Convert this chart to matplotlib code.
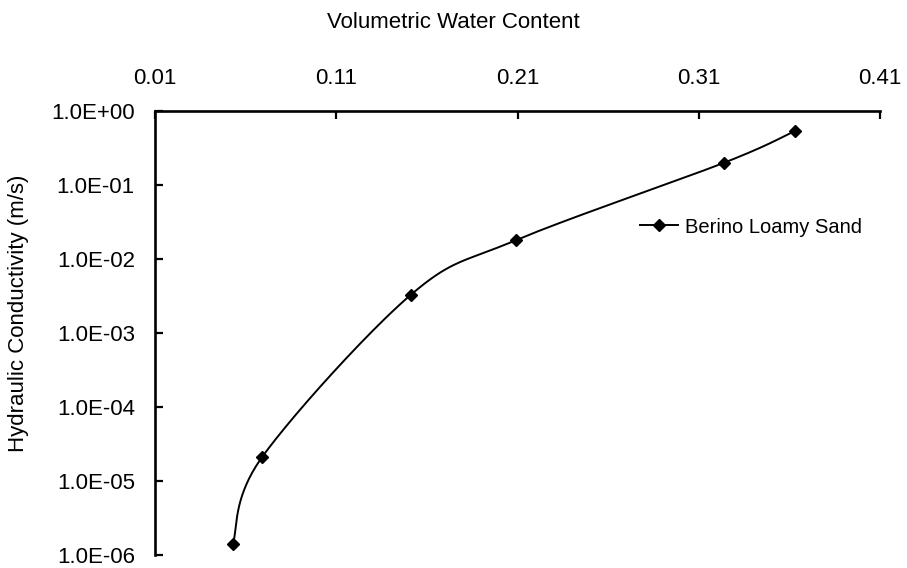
import numpy as np
import matplotlib
matplotlib.use("Agg")
import matplotlib.pyplot as plt
from matplotlib.ticker import FixedLocator, FixedFormatter, NullLocator

plt.rcParams['font.family'] = ['Liberation Sans', 'DejaVu Sans']

# Data
water_content = [0.053, 0.069, 0.151, 0.209, 0.324, 0.363]
conductivity = [1.43e-6, 2.09e-5, 3.26e-3, 1.79e-2, 0.20, 0.536]
series_name = "Berino Loamy Sand"
x_ticks = [0.01, 0.11, 0.21, 0.31, 0.41]
x_tick_labels = ["0.01", "0.11", "0.21", "0.31", "0.41"]
y_ticks = [1e-6, 1e-5, 1e-4, 1e-3, 1e-2, 1e-1, 1e0]
y_tick_labels = ["1.0E-06", "1.0E-05", "1.0E-04", "1.0E-03", "1.0E-02", "1.0E-01", "1.0E+00"]
x_title = "Volumetric Water Content"
y_title = "Hydraulic Conductivity (m/s)"

W, H = 907, 568
fig = plt.figure(figsize=(W / 100, H / 100), dpi=100)
ax = fig.add_axes([155 / W, 1 - 555 / H, 725 / W, 444 / H])
ax.set_yscale('log')
ax.set_xlim(x_ticks[0], x_ticks[-1])
ax.set_ylim(y_ticks[0], y_ticks[-1])

# Excel-style smoothed line (Bezier through the points) computed in display space
pts = ax.transData.transform(np.column_stack([water_content, conductivity]))
n = len(pts)
curve = []
t = np.linspace(0, 1, 40)
for i in range(n - 1):
    p0 = pts[i - 1] if i > 0 else pts[i]
    p1 = pts[i]
    p2 = pts[i + 1]
    p3 = pts[i + 2] if i + 2 < n else pts[i + 1]
    c1 = p1 + (p2 - p0) / 6.0
    c2 = p2 - (p3 - p1) / 6.0
    seg = ((1 - t)[:, None] ** 3 * p1 + 3 * ((1 - t) ** 2 * t)[:, None] * c1
           + 3 * ((1 - t) * t ** 2)[:, None] * c2 + (t ** 3)[:, None] * p2)
    curve.append(seg)
curve = np.vstack(curve)
curve_data = ax.transData.inverted().transform(curve)
ax.plot(curve_data[:, 0], curve_data[:, 1], color='black', lw=1.4, zorder=2,
        clip_on=False)
ax.plot(water_content, conductivity, linestyle='none', marker='D', color='black',
        markersize=6.5, zorder=3, clip_on=False)
# legend proxy
proxy, = ax.plot([], [], color='black', lw=1.4, marker='D', markersize=6.5,
                 label=series_name)

ax.xaxis.set_major_locator(FixedLocator(x_ticks))
ax.xaxis.set_major_formatter(FixedFormatter(x_tick_labels))
ax.yaxis.set_major_locator(FixedLocator(y_ticks))
ax.yaxis.set_major_formatter(FixedFormatter(y_tick_labels))
ax.yaxis.set_minor_locator(NullLocator())
ax.xaxis.set_minor_locator(NullLocator())

ax.xaxis.tick_top()
ax.tick_params(axis='x', direction='in', length=6, width=1.6, pad=16, labelsize=16)
ax.tick_params(axis='y', direction='in', length=6, width=1.6, pad=14.5, labelsize=16)

for s in ['right', 'bottom']:
    ax.spines[s].set_visible(False)
for s in ['left', 'top']:
    ax.spines[s].set_linewidth(1.9)

fig.text(0.5, 1 - 22 / H, x_title, fontsize=16, ha='center', va='center')
fig.text(18.5 / W, 1 - 313 / H, y_title, fontsize=16, ha='center', va='center',
         rotation=90)

fig.legend(handles=[proxy], loc='center left', bbox_to_anchor=(640 / W, 1 - 227 / H),
           frameon=False, fontsize=14.5, handlelength=1.9, handletextpad=0.35,
           borderpad=0, borderaxespad=0)

fig.savefig('out.png', dpi=100)
